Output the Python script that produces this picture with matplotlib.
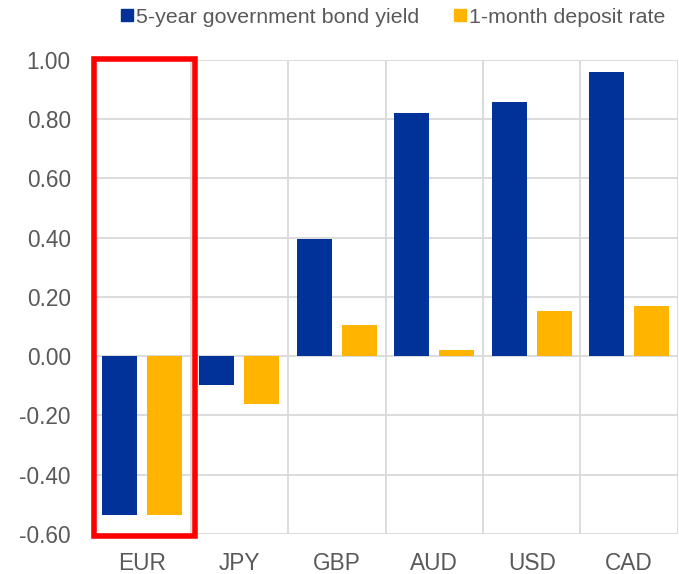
import matplotlib
matplotlib.use('agg')
import matplotlib.pyplot as plt
from matplotlib.patches import Rectangle
from matplotlib.lines import Line2D
import numpy as np

plt.rcParams['font.family'] = ['Liberation Sans', 'DejaVu Sans']

currencies = ["EUR", "JPY", "GBP", "AUD", "USD", "CAD"]
bond_yield = [-0.535, -0.096, 0.396, 0.821, 0.858, 0.958]
deposit_rate = [-0.535, -0.160, 0.104, 0.021, 0.154, 0.169]
series_names = ["5-year government bond yield", "1-month deposit rate"]

blue = "#003299"
yellow = "#FFB400"
text_col = "#595959"
grid_col = "#d9d9d9"

fig = plt.figure(figsize=(6.79, 5.74), dpi=100)
ax = fig.add_axes([0.137, 0.0697, 0.8615, 0.8258])

x = np.arange(len(currencies))
w = 0.36
off = 0.23
ax.bar(x - off, bond_yield, w, color=blue, zorder=3)
ax.bar(x + off, deposit_rate, w, color=yellow, zorder=3)

ax.set_xlim(-0.5, len(currencies) - 0.5)
ax.set_ylim(-0.6, 1.0)
ax.set_yticks(np.arange(-0.6, 1.01, 0.2))
ax.set_yticklabels([f"{v:.2f}" for v in np.arange(-0.6, 1.01, 0.2)])
ax.set_xticks(x)
ax.set_xticklabels(currencies)
ax.set_xticks(np.arange(-0.5, len(currencies), 1.0), minor=True)

ax.grid(axis='y', which='major', color=grid_col, linewidth=1.3, zorder=0)
ax.grid(axis='x', which='minor', color=grid_col, linewidth=1.3, zorder=0)
for s in ax.spines.values():
    s.set_visible(False)
ax.tick_params(axis='both', which='both', length=0, labelsize=16.3, colors=text_col)
ax.tick_params(axis='y', pad=16)
ax.tick_params(axis='x', pad=13)

# highlight box around the euro
ax.add_patch(Rectangle((-0.49, -0.607), 1.04, 1.609, fill=False,
                       edgecolor="#ff0000", linewidth=4, zorder=5, clip_on=False))

handles = [Line2D([], [], marker='s', linestyle='none', markersize=8.5, color=c)
           for c in (blue, yellow)]
fig.legend(handles, series_names, loc='upper center', bbox_to_anchor=(0.578, 1.02),
           ncol=2, frameon=False, fontsize=15.4, handletextpad=0.05,
           columnspacing=1.6, labelcolor=text_col, handlelength=0.7)

plt.savefig('out.png', dpi=100)
